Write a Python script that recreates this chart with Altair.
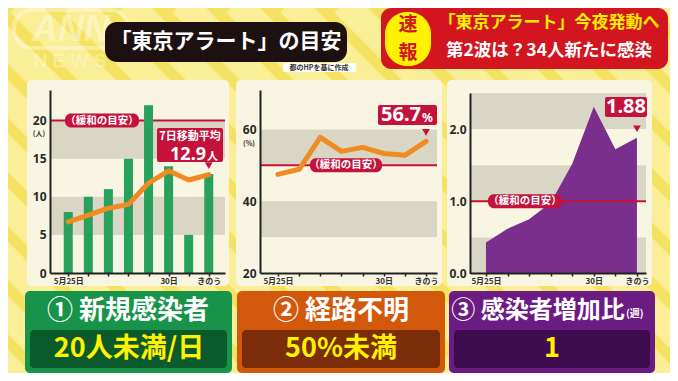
import altair as alt
import pandas as pd

# ---------------- data ----------------
day_index = [0, 1, 2, 3, 4, 5, 6, 7]
day_labels = ["5月25日", "", "", "", "", "30日", "", "きのう"]
new_cases = [8, 10, 11, 15, 22, 14, 5, 13]
avg7 = [6.7, 7.6, 8.5, 9.0, 11.8, 13.4, 12.2, 12.9]
unknown_pct = [47.5, 48.9, 57.8, 53.9, 55.0, 53.3, 52.8, 56.7]
growth_ratio = [0.43, 0.62, 0.75, 0.98, 1.52, 2.31, 1.72, 1.88]

bands1 = [(5, 10), (15, 20)]
bands2 = [(30, 40), (50, 60)]
bands3 = [(0, 0.5), (1.0, 1.5), (2.0, 2.5)]
target1, target2, target3 = 20, 50, 1.0

FONT = "Noto Sans CJK JP"
YELLOW_DARK = "#f6e262"
YELLOW_LIGHT = "#faef96"
CREAM = "#f8f6e2"
BAND = "#d9d6c6"
CRIMSON = "#c4123c"
GREEN = "#27a15c"
ORANGE = "#f08a22"
PURPLE = "#7a2f8c"
DARK = "#222222"

one = pd.DataFrame({"k": [0]})

label_expr = " : ".join(
    f"datum.value == {i} ? '{t}'" for i, t in zip(day_index, day_labels) if t
) + " : ''"


def xaxis():
    return alt.Axis(orient="bottom", offset=-100, values=day_index, labelExpr=label_expr,
                    title=None, grid=False, domainColor=DARK, domainWidth=2,
                    tickColor=DARK, tickSize=3, tickWidth=1.5, labelFontSize=8,
                    labelFont=FONT, labelFontWeight="bold", labelColor="#333",
                    labelPadding=1, labelFlush=False, labelOverlap=False, zindex=1)


def yaxis(offset, values, fmt):
    return alt.Axis(orient="left", offset=offset, values=values, format=fmt, title=None,
                    grid=False, ticks=False, domainColor=DARK, domainWidth=2,
                    labelFontSize=12, labelFont="Noto Sans", labelFontWeight="bold",
                    labelColor="#2a2a2a", labelPadding=4, zindex=1)


def rect(x1, y1, x2, y2, color, r=0, **kw):
    return alt.Chart(one).mark_rect(color=color, cornerRadius=r, **kw).encode(
        x=alt.value(x1), x2=alt.value(x2), y=alt.value(y1), y2=alt.value(y2))


def txt(x, y, s, size, color, align="center", weight="bold", font=FONT, **kw):
    return alt.Chart(one).mark_text(text=s, fontSize=size, color=color, align=align,
                                    baseline="middle", font=font, fontWeight=weight,
                                    **kw).encode(x=alt.value(x), y=alt.value(y))


def panel(values, xdom, xrange, ydom, yrange, yoff, yvals, yfmt, bands, target,
          data_layers_fn, label_box, rule_on_top):
    xs = alt.Scale(domain=xdom, range=xrange, nice=False, zero=False)
    ys = alt.Scale(domain=ydom, range=yrange, nice=False, zero=False)
    xa, ya = xaxis(), yaxis(yoff, yvals, yfmt)
    X = alt.X("i:Q", scale=xs, axis=xa)
    Y = alt.Y("v:Q", scale=ys, axis=ya)
    bdf = pd.DataFrame(bands, columns=["lo", "hi"])
    band_layer = alt.Chart(bdf).mark_rect(color=BAND).encode(
        x=alt.value(xrange[0]), x2=alt.value(xrange[1]),
        y=alt.Y("lo:Q", scale=ys, axis=ya), y2="hi:Q")
    rule = alt.Chart(one).mark_rule(color=CRIMSON, strokeWidth=2).encode(
        x=alt.value(xrange[0]), x2=alt.value(xrange[1]),
        y=alt.YDatum(target, type="quantitative", scale=ys, axis=ya))
    bx1, bx2 = label_box
    lbox = alt.Chart(one).mark_rect(color=CRIMSON, cornerRadius=6, yOffset=-7,
                                    y2Offset=7).encode(
        x=alt.value(bx1), x2=alt.value(bx2),
        y=alt.YDatum(target, type="quantitative", scale=ys, axis=ya),
        y2=alt.Y2Datum(target))
    ltxt = alt.Chart(one).mark_text(text="（緩和の目安）", fontSize=10.5, color="white",
                                    font=FONT, fontWeight="bold", baseline="middle").encode(
        x=alt.value((bx1 + bx2) / 2),
        y=alt.YDatum(target, type="quantitative", scale=ys, axis=ya))
    pointer = alt.Chart(one).mark_point(shape="triangle-down", filled=True, color=CRIMSON,
                                        size=60, opacity=1, yOffset=-9).encode(
        x=alt.XDatum(day_index[-1], type="quantitative", scale=xs, axis=xa),
        y=alt.YDatum(values[-1], type="quantitative", scale=ys, axis=ya))
    data_layers = data_layers_fn(X, Y)
    if rule_on_top:
        layers = [band_layer] + data_layers + [rule, lbox, ltxt, pointer]
    else:
        layers = [band_layer, rule] + data_layers + [lbox, ltxt, pointer]
    return alt.layer(*layers)


df1 = pd.DataFrame({"i": day_index, "v": new_cases})
df1a = pd.DataFrame({"i": day_index, "v": avg7})
df2 = pd.DataFrame({"i": day_index, "v": unknown_pct})
df3 = pd.DataFrame({"i": day_index, "v": growth_ratio})


def p1_layers(X, Y):
    bars = alt.Chart(df1).mark_bar(size=9, color=GREEN, orient="vertical").encode(x=X, y=Y)
    line = alt.Chart(df1a).mark_line(color=ORANGE, strokeWidth=5, strokeCap="round",
                                     strokeJoin="round").encode(x=X, y=Y)
    return [bars, line]


def p2_layers(X, Y):
    line = alt.Chart(df2).mark_line(color=ORANGE, strokeWidth=5, strokeCap="round",
                                    strokeJoin="round").encode(x=X, y=Y)
    return [line]


def p3_layers(X, Y):
    area = alt.Chart(df3).mark_area(color=PURPLE, opacity=1).encode(x=X, y=Y)
    return [area]


p1 = panel(avg7, [-0.66, 7.56], [42, 217], [0, 24], [265, 82], -42, [0, 5, 10, 15, 20], "d",
           bands1, target1, p1_layers, (57, 131), False)
p2 = panel(unknown_pct, [-0.85, 7.52], [252, 429], [20, 71], [265, 82], -252, [20, 40, 60], "d",
           bands2, target2, p2_layers, (302, 374), False)
p3 = panel(growth_ratio, [-0.74, 7.42], [462, 638], [0, 2.5], [265.5, 85], -462, [0, 1, 2], ".1f",
           bands3, target3, p3_layers, (480, 554), True)

# ---------------- decorations ----------------
# diagonal background stripes (decoration only)
stripe_starts = list(range(-420, 700, 54))
stripes_df = pd.DataFrame({
    "x1": stripe_starts,
    "x2": [s + 380 for s in stripe_starts],
    "y1": [-5] * len(stripe_starts),
    "y2": [375] * len(stripe_starts),
})
stripes = alt.Chart(stripes_df).mark_rule(color=YELLOW_LIGHT, strokeWidth=27).encode(
    x=alt.X("x1:Q", scale=None, axis=None), x2="x2:Q",
    y=alt.Y("y1:Q", scale=None, axis=None), y2="y2:Q")

bg = [
    stripes,
    # ANN NEWS watermark
    alt.Chart(one).mark_rect(fill=None, stroke="white", strokeWidth=4, strokeOpacity=0.35,
                             cornerRadius=18).encode(
        x=alt.value(6), x2=alt.value(120), y=alt.value(2), y2=alt.value(40)),
    txt(63, 22, "ANN", 36, "white", font="Liberation Sans", fontStyle="italic", opacity=0.4),
    txt(62, 53, "N E W S", 19, "white", font="Liberation Sans", weight="normal", opacity=0.4),
    # panels
    rect(19, 72, 221, 278, CREAM, 5),
    rect(228, 72, 434, 278, CREAM, 5),
    rect(439, 72, 644, 278, CREAM, 5),
]

fg = [
    # unit labels
    txt(31, 126, "(人)", 7, "#333"),
    txt(241, 136, "(%)", 7, "#333"),
    # annotation 1
    rect(149, 120, 215, 154, CRIMSON, 2),
    txt(182, 129, "7日移動平均", 11, "white"),
    txt(198, 147, f"{avg7[-1]:.1f}", 18, "white", align="right", font="Noto Sans"),
    txt(199, 149, "人", 11, "white", align="left"),
    # annotation 2
    rect(370, 97, 429, 117, CRIMSON, 2),
    txt(413, 107, f"{unknown_pct[-1]:.1f}", 20, "white", align="right", font="Noto Sans"),
    txt(414, 110, "%", 12, "white", align="left", font="Noto Sans"),
    # annotation 3
    rect(597, 89, 639, 109, CRIMSON, 2),
    txt(618, 99, f"{growth_ratio[-1]:.2f}", 20, "white", font="Noto Sans"),
    # header
    rect(97, 14, 339, 54, "#1c1011", 12),
    txt(218, 34, "「東京アラート」の目安", 21, "white"),
    rect(275, 55, 348, 64, "white", 2),
    txt(311, 60, "都のHPを基に作成", 7, "#333"),
    # breaking news box
    rect(373, 0, 660, 61, "#d2151f", 10),
    rect(377, 4, 423, 58, "#fff100", 22),
    txt(400, 17, "速", 19, "#d2151f"),
    txt(400, 45, "報", 19, "#d2151f"),
    txt(541, 15, "「東京アラート」今夜発動へ", 17, "#ffee00"),
    txt(541, 43, "第2波は？34人新たに感染", 17.5, "white"),
    # bottom boxes
    rect(17, 283, 224, 365, "#17944a", 5),
    rect(22, 322, 219, 360, "#0b5a2b", 4),
    txt(120, 303, "① 新規感染者", 26, "white"),
    txt(121, 341, "20人未満/日", 27, "#fff200"),
    rect(229, 283, 437, 365, "#d2580c", 5),
    rect(234, 322, 432, 360, "#7a2d06", 4),
    txt(333, 303, "② 経路不明", 26, "white"),
    txt(333, 341, "50%未満", 27, "#fff200"),
    rect(441, 283, 647, 365, "#6b1c82", 5),
    rect(446, 322, 642, 360, "#3e0b4f", 4),
    txt(530, 303, "③ 感染者増加比", 24, "white"),
    txt(618, 306, "(週)", 10, "white", align="left"),
    txt(544, 341, "1", 27, "#fff200"),
]

chart = alt.layer(*bg, p1, p2, p3, *fg).resolve_scale(
    x="independent", y="independent"
).properties(
    width=662, height=365, padding=0,
    autosize=alt.AutoSizeParams(type="none"),
    background=YELLOW_DARK,
).configure_view(stroke=None)

chart.save("out.html", embed_options={"renderer": "svg", "actions": False})
